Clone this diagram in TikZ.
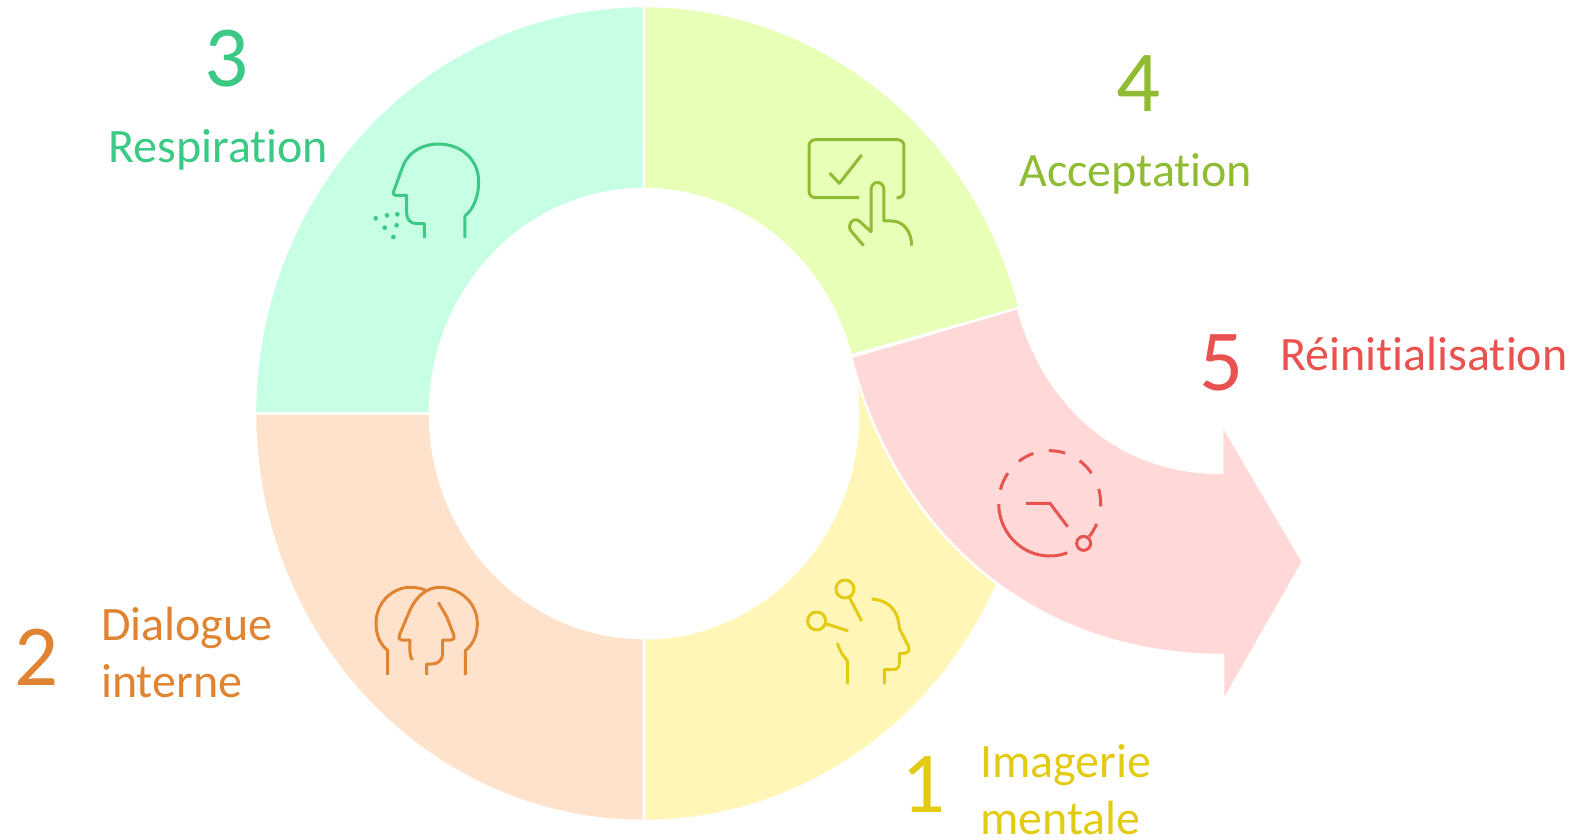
\documentclass[tikz,border=0pt]{standalone}
\usepackage{fontspec}
\setmainfont{Carlito}[Ligatures=NoCommon]
\definecolor{cmint}{HTML}{3CC885}\definecolor{clime}{HTML}{8FBC33}\definecolor{corange}{HTML}{E08432}
\definecolor{cyellow}{HTML}{E3CB14}\definecolor{cred}{HTML}{E8534F}
\definecolor{fmint}{HTML}{C7FFE4}\definecolor{flime}{HTML}{E8FFB8}\definecolor{forange}{HTML}{FEE2CC}
\definecolor{fyellow}{HTML}{FFF6B8}\definecolor{fred}{HTML}{FFD8D8}
\tikzset{
  seg/.style={draw=white,line width=2.5pt,line join=miter},
  icon/.style={x=0.3333pt,y=-0.3333pt,line width=3pt,line cap=butt,line join=round},
  num/.style={font=\fontsize{87}{87}\selectfont,inner sep=0pt,anchor=base},
  lab/.style={font=\fontsize{48}{50}\selectfont,inner sep=0pt,anchor=base west},
}
\begin{document}
\begin{tikzpicture}[x=1pt,y=-1pt]
\useasboundingbox (0,0) rectangle (1575,839);
\def\cx{644}\def\cy{413.5}
% ring
\fill[fill=fmint,seg] (\cx,\cy-407.5) arc[start angle=-90,delta angle=-90,x radius=389,y radius=407.5]
  -- (\cx-214,\cy) arc[start angle=180,delta angle=90,x radius=214,y radius=224.5] -- cycle;
\fill[fill=forange,seg] (\cx-389,\cy) arc[start angle=180,delta angle=-90,x radius=389,y radius=407.5]
  -- (\cx,\cy+224.5) arc[start angle=90,delta angle=90,x radius=214,y radius=224.5] -- cycle;
\fill[fill=fyellow,seg] (\cx,\cy+407.5) arc[start angle=90,delta angle=-70,x radius=389,y radius=407.5]
  -- (856,382.5) arc[start angle=-8,delta angle=98,x radius=214,y radius=224.5] -- cycle;
\fill[fill=flime,seg] (\cx,\cy-407.5) arc[start angle=-90,delta angle=75,x radius=389,y radius=407.5]
  -- (850.7,355.4) arc[start angle=-15,delta angle=-75,x radius=214,y radius=224.5] -- cycle;
% arrow
\fill[fill=fred,seg] (1018,308) .. controls (1042,398) and (1112,473) .. (1222,473)
  -- (1222,424) -- (1303,562) -- (1223,702) -- (1223,655)
  .. controls (1030,655) and (895,530) .. (851,357) -- cycle;
% mint icon
\begin{scope}[shift={(350,120)},icon]
\draw[cmint] (223,354) -- (223,311) -- (200,311) .. controls (182,311) and (170,298) .. (170,280) -- (170,226) -- (137,226)
 .. controls (130,226) and (128,220) .. (131,214) -- (160,135) .. controls (180,90) and (225,72) .. (265,72)
 .. controls (335,72) and (386,120) .. (386,185) .. controls (386,230) and (370,268) .. (345,288) -- (345,354);
\foreach \a/\b in {77/295,111/286,142/283,104/323,140/316,130/351} \fill[cmint] (\a,\b) circle[radius=7];
\end{scope}
% lime icon
\begin{scope}[shift={(790,125)},icon]
\draw[clime] (207,218) -- (77,218) .. controls (65,218) and (57,210) .. (57,198) -- (57,64) .. controls (57,52) and (65,44) .. (77,44)
 -- (322,44) .. controls (334,44) and (342,52) .. (342,64) -- (342,198) .. controls (342,210) and (334,219) .. (320,219);
\draw[clime] (119,144) -- (148,175) -- (215,90);
\draw[clime] (221,362) -- (183,318) .. controls (170,300) and (190,272) .. (210,290) -- (243,320) -- (243,195)
 .. controls (243,165) and (282,165) .. (282,195) -- (282,288) -- (305,288) .. controls (340,288) and (365,320) .. (365,362);
\end{scope}
% orange icon
\begin{scope}[shift={(360,570)},icon]
\draw[corange] (83,315) -- (83,242) .. controls (60,222) and (48,195) .. (48,160) .. controls (48,95) and (100,52) .. (150,52) .. controls (168,52) and (185,55) .. (197,61);
\draw[corange] (200,315) -- (200,282) -- (215,282) .. controls (235,282) and (248,270) .. (248,250) -- (248,210) -- (273,210)
 .. controls (281,210) and (285,204) .. (282,196) -- (260,140) -- (235,97);
\draw[corange] (157,270) .. controls (152,262) and (150,255) .. (150,245) -- (150,210) -- (125,210)
 .. controls (117,210) and (115,204) .. (118,196) -- (150,120) .. controls (170,78) and (200,52) .. (240,52)
 .. controls (300,52) and (352,100) .. (352,160) .. controls (352,195) and (340,222) .. (316,242) -- (316,315);
\end{scope}
% yellow icon
\begin{scope}[shift={(790,565)},icon]
\draw[cyellow] (165,72) circle[radius=27];
\draw[cyellow] (178,97) -- (215,168);
\draw[cyellow] (80,168) circle[radius=27];
\draw[cyellow] (107,176) -- (175,198);
\draw[cyellow] (245,102) .. controls (290,105) and (325,130) .. (328,190) -- (356,245) .. controls (360,258) and (352,265) .. (345,265) -- (328,265)
 -- (328,295) .. controls (328,308) and (320,314) .. (310,314) -- (283,314) -- (283,358);
\draw[cyellow] (142,234) .. controls (148,255) and (158,272) .. (172,287) -- (172,358);
\end{scope}
% red icon
\begin{scope}[shift={(980,435)},icon]
\foreach \s/\d in {-91/18.5,-54/19,-15.8/19.2,23/16,69.7/109.3,-165/20,-127/18.4}
  \draw[cred] ({209+153*cos(\s)},{205+158*sin(\s)}) arc[start angle=\s,delta angle=\d,x radius=153,y radius=158];
\draw[cred] (311,325) circle[radius=21];
\draw[cred] (138,205) -- (210,205) -- (263,275);
\end{scope}
% texts
\node[num,text=cmint] (n3) at (227,86) {3};
\node[lab,text=cmint] (t3) at (108,162.5) {Respiration};
\node[num,text=clime] (n4) at (1139,111) {4};
\node[lab,text=clime] (t4) at (1019,186.5) {Acceptation};
\node[num,text=cred] (n5) at (1222,390) {5};
\node[lab,text=cred] (t5) at (1280,370) {Réinitialisation};
\node[num,text=corange] (n2) at (37,685) {2};
\node[lab,text=corange] (t2a) at (101,640) {Dialogue};
\node[lab,text=corange] (t2b) at (101,697) {interne};
\node[num,text=cyellow] (n1) at (924,812) {1};
\node[lab,text=cyellow] (t1a) at (980,777) {Imagerie};
\node[lab,text=cyellow] (t1b) at (980,834) {mentale};
\end{tikzpicture}
\end{document}
